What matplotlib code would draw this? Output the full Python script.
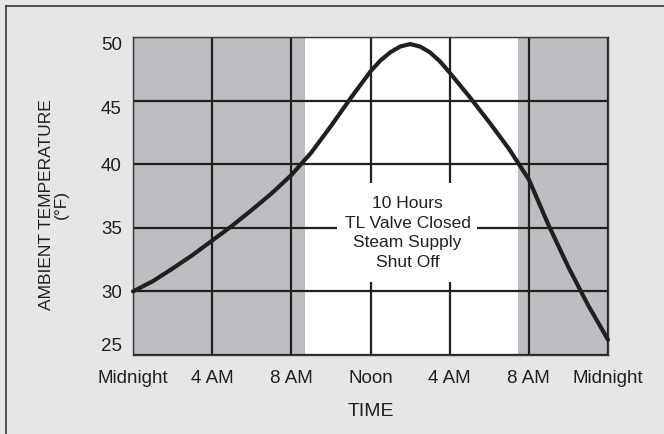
import matplotlib
matplotlib.use("Agg")
from matplotlib import pyplot as plt
from matplotlib.lines import Line2D
from matplotlib.patches import Rectangle

# hours since midnight and ambient temperature
hours = [0, 1, 2, 3, 4, 5, 6, 7, 8, 9, 10, 11, 12, 12.5, 13, 13.5, 14, 14.5, 15, 15.5,
         16, 17, 18, 19, 20, 21, 22, 23, 24]
temps = [30.0, 30.8, 31.8, 32.85, 34.0, 35.15, 36.4, 37.7, 39.15, 40.9, 43.0, 45.2,
         47.3, 48.15, 48.8, 49.25, 49.45, 49.25, 48.8, 48.1, 47.2, 45.3, 43.3, 41.2,
         38.8, 35.2, 31.9, 28.9, 26.2]

x_ticks = [0, 4, 8, 12, 16, 20, 24]
x_labels = ["Midnight", "4 AM", "8 AM", "Noon", "4 AM", "8 AM", "Midnight"]
y_ticks = [25, 30, 35, 40, 45, 50]

valve_closed = (8.7, 19.45)
note = "10 Hours\nTL Valve Closed\nSteam Supply\nShut Off"

INK = "#231f20"
SHADE = "#bdbec1"
BG = "#e6e6e6"
FONT = "Liberation Sans"

fig = plt.figure(figsize=(6.64, 4.34), dpi=100, facecolor=BG)
ax = fig.add_axes([0.2003, 0.182, 0.7154, 0.7327])
ax.set_facecolor("white")

ax.axvspan(0, valve_closed[0], color=SHADE, lw=0, zorder=1)
ax.axvspan(valve_closed[1], 24, color=SHADE, lw=0, zorder=1)

ax.set_axisbelow("line")
ax.grid(True, color=INK, linewidth=1.6)

# white box behind the note, breaks the grid lines
ax.add_patch(Rectangle((10.3, 30.75), 7.1, 7.8, facecolor="white", edgecolor="none", zorder=1.8))
ax.text(13.87, 34.6, note, ha="center", va="center", fontsize=12.5, color=INK,
        family=FONT, linespacing=1.38, zorder=2)

ax.plot(hours, temps, color=INK, linewidth=3, solid_joinstyle="round",
        solid_capstyle="round", zorder=3, clip_on=False)

ax.set_xlim(0, 24)
ax.set_ylim(25, 50)
ax.set_xticks(x_ticks)
ax.set_xticklabels(x_labels, fontsize=13.5, color=INK, family=FONT)
ax.set_yticks(y_ticks)
ax.set_yticklabels([str(v) for v in y_ticks], fontsize=13.5, color=INK, family=FONT)
ax.tick_params(axis="both", length=0)
ax.tick_params(axis="x", pad=11)
ax.tick_params(axis="y", pad=8)

ylabels = ax.get_yticklabels()
ylabels[0].set_va("bottom")
ylabels[-1].set_va("top")
ylabels[-2].set_va("top")

for side in ["left", "right", "top", "bottom"]:
    ax.spines[side].set_color("#3a3a3a")
    ax.spines[side].set_linewidth(1.0)

ax.set_xlabel("TIME", fontsize=14, color=INK, family=FONT, labelpad=11)
fig.text(0.081, 0.528, "AMBIENT TEMPERATURE\n(°F)", rotation=90, ha="center", va="center",
         fontsize=12.5, color=INK, family=FONT, linespacing=1.0)

# frame of the figure, only top and left edges show
fig.add_artist(Line2D([0.0085, 1.0], [0.986, 0.986], color="#3a3a3a", lw=1.2))
fig.add_artist(Line2D([0.0085, 0.0085], [0.0, 0.986], color="#3a3a3a", lw=1.2))

fig.savefig("out.png", dpi=100, facecolor=BG)
